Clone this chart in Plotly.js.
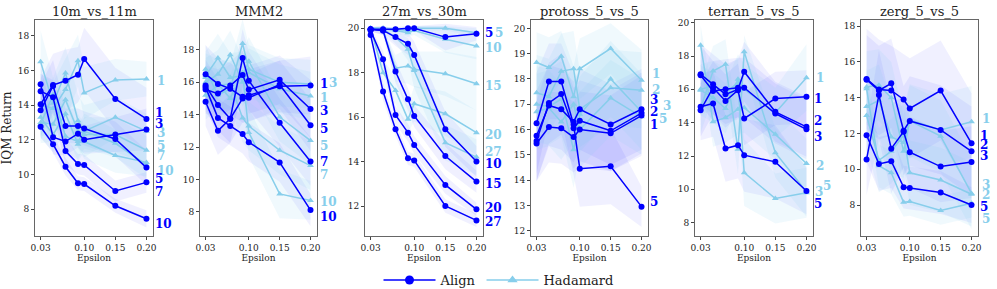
<!DOCTYPE html>
<html><head><meta charset="utf-8">
<script src="https://cdn.plot.ly/plotly-3.0.1.min.js"></script>
<style>html,body{margin:0;padding:0;background:#fff;overflow:hidden}#chart{width:997px;height:289px}</style>
</head><body><div id="chart"></div>
<script>
// ---------- data ----------
const eps = [0.03, 0.05, 0.07, 0.09, 0.10, 0.15, 0.20];
const titles = ["10m_vs_11m", "MMM2", "27m_vs_30m", "protoss_5_vs_5", "terran_5_vs_5", "zerg_5_vs_5"];
const xTicks = [0.03, 0.10, 0.15, 0.20];
const yTicks = [[8,10,12,14,16,18],[8,10,12,14,16,18],[12,14,16,18,20],[12,13,14,15,16,17,18,19,20],[8,10,12,14,16,18,20],[8,10,12,14,16,18]];

const keys_10m = ["1","3","5","7","10"];
const keys_mmm2 = ["1","3","5","7","10"];
const keys_27m = ["5","10","15","20","27"];
const keys_protoss = ["1","2","3","5"];
const keys_terran = ["1","2","3","5"];
const keys_zerg = ["1","2","3","5"];

const align_10m = [
  [14.05,15.15,15.4,15.75,16.65,14.35,13.2],
  [15.2,12.15,11.9,12.35,12.0,12.3,12.6],
  [13.7,15.1,12.8,12.8,12.65,12.05,10.4],
  [14.8,14.45,11.35,10.6,10.55,9.05,9.55],
  [12.75,11.75,10.45,9.5,9.45,8.2,7.45]];
const alignStd_10m = [
  [1.5,1.8,1.8,1.6,1.8,1.8,1.8],[1.2,1.0,0.8,0.8,0.8,1.0,1.2],[1.5,1.5,1.0,1.0,1.0,1.0,1.0],
  [1.0,1.0,0.8,0.6,0.6,0.6,0.6],[0.6,0.5,0.5,0.4,0.4,0.4,0.5]];
const had_10m = [
  [14.0,13.8,14.9,16.55,14.7,15.45,15.5],
  [16.5,14.1,15.85,13.1,12.5,13.3,12.5],
  [13.3,12.3,13.5,11.75,12.3,12.3,11.4],
  [13.0,12.9,14.3,12.5,11.9,11.1,10.7],
  [12.9,14.6,12.2,11.9,12.5,11.8,10.55]];
const hadStd_10m = [
  [1.8,1.5,1.8,1.5,1.5,1.2,1.0],[1.8,1.5,1.5,1.5,1.5,1.2,1.0],[1.2,1.0,1.0,1.0,1.0,1.0,0.8],
  [1.2,1.0,1.0,1.0,1.0,1.0,0.8],[1.0,1.0,1.0,1.0,1.0,0.8,0.8]];

const align_mmm2 = [
  [16.5,15.9,15.6,15.1,15.2,15.75,15.8],
  [15.55,15.3,15.8,16.45,15.55,16.15,14.35],
  [15.8,14.6,13.75,15.0,15.05,15.85,13.35],
  [14.8,13.0,13.75,17.5,16.1,13.5,11.1],
  [15.7,13.8,13.3,12.8,12.3,11.05,8.1]];
const alignStd_mmm2 = [
  [1.8,1.6,1.6,1.6,1.6,1.6,1.8],[1.5,1.5,1.5,1.5,1.5,1.5,1.8],[1.6,1.6,1.5,1.5,1.5,1.5,1.6],
  [1.5,1.5,1.5,1.8,1.8,1.5,1.5],[1.2,1.2,1.2,1.2,1.2,1.2,1.0]];
const had_mmm2 = [
  [16.0,16.5,17.7,16.0,16.6,15.6,15.15],
  [16.8,15.2,15.6,18.4,16.8,16.0,15.9],
  [16.4,17.5,16.3,16.4,17.3,13.85,12.4],
  [15.2,15.8,15.9,13.8,13.3,11.8,10.85],
  [16.3,15.9,15.0,16.6,12.9,9.1,8.7]];
const hadStd_mmm2 = [
  [1.5,1.5,1.5,1.5,1.5,1.5,1.5],[1.5,1.5,1.5,1.5,1.5,1.5,1.5],[1.5,1.5,1.5,1.5,1.5,1.5,1.5],
  [1.5,1.5,1.5,1.5,1.5,1.5,1.5],[1.5,1.5,1.5,1.5,1.5,1.5,1.2]];

const align_27m = [
  [19.95,19.95,19.95,20.0,20.0,19.6,19.75],
  [19.95,19.9,19.6,19.3,18.8,15.45,14.0],
  [19.95,19.9,18.05,16.8,16.05,14.25,13.1],
  [19.9,18.6,16.1,15.3,14.75,12.95,11.85],
  [19.7,17.15,15.45,14.15,14.05,12.0,11.35]];
const alignStd_27m = [
  [0.1,0.1,0.1,0.1,0.1,0.6,0.3],[0.1,0.2,0.4,0.5,0.6,0.8,0.7],[0.1,0.2,0.5,0.5,0.5,0.6,0.5],
  [0.1,0.4,0.4,0.4,0.4,0.4,0.3],[0.2,0.4,0.3,0.3,0.3,0.3,0.3]];
const had_27m = [
  [20.0,20.0,19.95,19.9,20.0,20.0,19.8],
  [20.0,20.0,19.9,19.8,19.9,19.5,19.2],
  [20.0,19.9,18.2,18.3,18.15,17.95,17.5],
  [20.0,18.0,17.2,15.9,16.6,16.15,15.3],
  [20.0,19.95,19.6,19.05,18.1,14.85,14.2]];
const hadStd_27m = [
  [0.05,0.05,0.1,0.1,0.1,0.1,0.2],[0.05,0.05,0.1,0.2,0.2,0.6,0.6],[0.05,0.1,0.6,0.8,0.8,1.0,1.2],
  [0.05,0.6,0.6,0.6,0.8,1.0,1.0],[0.05,0.1,0.3,0.5,0.8,0.8,0.8]];

const align_protoss = [
  [15.45,16.1,16.05,15.7,16.0,15.85,16.55],
  [15.55,17.05,17.4,16.05,16.35,15.95,16.65],
  [15.75,16.95,16.8,16.3,16.8,16.2,16.8],
  [16.25,17.9,17.9,16.2,14.45,14.55,12.95]];
const alignStd_protoss = [
  [1.5,1.4,1.4,1.4,1.5,1.5,1.6],[1.6,1.6,1.6,1.6,1.6,1.6,1.6],[1.8,1.6,1.6,1.6,1.6,1.6,1.6],
  [2.0,1.5,1.5,2.0,1.5,1.5,0.8]];
const had_protoss = [
  [18.65,18.45,18.9,17.3,18.4,19.2,17.95],
  [17.45,17.3,18.3,18.4,16.8,17.65,17.55],
  [17.0,16.9,17.2,15.2,16.6,18.0,16.7],
  [16.7,16.85,16.3,17.0,16.0,17.25,16.5]];
const hadStd_protoss = [
  [1.2,1.2,1.0,1.2,1.2,1.0,1.2],[1.5,1.5,1.5,1.5,1.5,1.5,1.5],[1.5,1.5,1.5,1.5,1.5,1.5,1.5],
  [1.5,1.5,1.5,1.5,1.5,1.5,1.5]];

const align_terran = [
  [14.75,16.1,15.3,15.95,14.25,15.45,15.55],
  [16.9,16.3,15.7,16.0,17.05,14.65,13.75],
  [16.85,15.9,16.0,16.1,16.1,14.55,13.6],
  [14.95,15.15,12.45,12.65,12.05,11.65,9.9]];
const alignStd_terran = [
  [1.6,1.6,1.6,1.6,1.6,1.6,1.6],[1.8,1.8,1.8,1.8,1.8,1.8,1.8],[1.8,1.8,1.8,1.8,1.8,1.8,1.8],
  [2.0,2.0,2.0,2.0,2.2,2.2,1.4]];
const had_terran = [
  [15.95,15.5,14.85,16.6,16.0,14.6,16.7],
  [18.65,14.05,14.3,14.8,14.9,13.3,11.55],
  [14.85,17.1,17.5,12.4,18.25,12.2,9.85],
  [16.0,16.2,15.8,16.4,11.0,9.45,9.8]];
const hadStd_terran = [
  [1.5,1.5,1.5,1.5,1.5,1.5,2.0],[1.2,1.5,1.5,1.5,1.5,1.5,1.5],[1.5,1.5,1.5,1.5,1.0,1.5,1.5],
  [1.5,1.5,1.5,1.5,2.0,1.5,1.5]];

const align_zerg = [
  [15.05,14.45,14.4,13.9,13.4,14.4,11.45],
  [15.0,14.4,14.8,12.15,12.7,12.2,11.0],
  [10.55,14.15,11.15,12.1,10.95,10.15,10.4],
  [11.9,10.3,10.45,9.0,8.95,8.7,8.0]];
const alignStd_zerg = [
  [2.8,2.8,2.5,2.5,2.8,2.8,2.8],[2.5,2.5,2.5,2.5,2.5,2.5,2.5],[2.0,2.5,2.5,2.0,2.0,2.0,2.0],
  [1.5,1.5,1.5,1.2,1.2,1.2,1.0]];
const had_zerg = [
  [13.5,13.85,11.8,11.5,12.75,12.2,12.65],
  [14.6,14.7,14.0,11.0,12.7,11.85,8.65],
  [13.0,10.5,11.0,11.9,9.8,9.4,8.6],
  [14.5,10.2,9.8,8.15,8.2,7.7,8.1]];
const hadStd_zerg = [
  [2.0,2.0,2.0,2.0,2.0,2.0,2.0],[2.0,2.0,2.0,2.0,2.0,2.0,2.0],[1.8,1.8,1.8,1.8,1.8,1.8,1.8],
  [1.2,1.2,1.2,0.8,0.8,0.8,0.8]];

// ---------- style / layout (positions in px) ----------
const panels = [
  {keys: keys_10m, al: align_10m, as: alignStd_10m, ha: had_10m, hs: hadStd_10m},
  {keys: keys_mmm2, al: align_mmm2, as: alignStd_mmm2, ha: had_mmm2, hs: hadStd_mmm2},
  {keys: keys_27m, al: align_27m, as: alignStd_27m, ha: had_27m, hs: hadStd_27m},
  {keys: keys_protoss, al: align_protoss, as: alignStd_protoss, ha: had_protoss, hs: hadStd_protoss},
  {keys: keys_terran, al: align_terran, as: alignStd_terran, ha: had_terran, hs: hadStd_terran},
  {keys: keys_zerg, al: align_zerg, as: alignStd_zerg, ha: had_zerg, hs: hadStd_zerg}];
const yRanges = [[6.46,18.9],[6.5,19.85],[10.65,20.37],[11.79,20.33],[7.2,20.16],[6.27,18.34]];
const xPix = [[35,153],[200,317],[365,483],[531,648],[695,813],[861,978]];
const yPix = [20,236];
const alignLab = [
  [[7,6],[7,5],[7,-11],[7,-10],[7,-5]],
  [[7,2],[7,-2],[7,-4],[7,0],[7,-7]],
  [[7,1],[7,-2],[7,-2],[7,1],[7,-2]],
  [[6,-9],[6,1],[6,9],[6,5]],
  [[6,-2],[6,6],[6,-8],[6,-13]],
  [[6,7],[6,6],[6,6],[6,-2]]];
const hadLab = [
  [[9,-2],[9,-2],[9,4],[9,6],[9,-6]],
  [[7,-2],[16,1],[7,-5],[7,-9],[7,-2]],
  [[17,0],[7,-2],[7,-2],[7,-2],[7,5]],
  [[8,6],[8,0],[19,6],[15,-2]],
  [[8,0],[8,-2],[7,0],[15,7]],
  [[8,3],[8,-2],[8,9],[8,-16]]];

const ALIGN = "#0000ff", HAD = "#87ceeb";
const ALIGN_FILL = "rgba(0,0,255,0.06)", HAD_FILL = "rgba(135,206,235,0.12)";
const FONT = "DejaVu Serif";
const W = 997, H = 289;

const traces = [];
const layout = {
  width: W, height: H, autosize: false, margin: {l:0,r:0,t:0,b:0, autoexpand: false},
  paper_bgcolor: "#fff", plot_bgcolor: "#fff",
  font: {family: FONT, size: 9, color: "#222"},
  showlegend: true,
  legend: {orientation: "h", x: 0.5, xanchor: "center", y: 1 - 280/H, yanchor: "middle", traceorder: "normal",
    font: {family: FONT, size: 13, color: "#222"}, itemwidth: 52, bgcolor: "rgba(0,0,0,0)"},
  annotations: []
};

panels.forEach((p, i) => {
  const n = i + 1;
  const xa = n === 1 ? "x" : "x" + n, ya = n === 1 ? "y" : "y" + n;
  const xk = n === 1 ? "xaxis" : "xaxis" + n, yk = n === 1 ? "yaxis" : "yaxis" + n;
  layout[xk] = {
    domain: [xPix[i][0]/W, xPix[i][1]/W], anchor: ya, range: [0.021, 0.2105], automargin: false,
    tickvals: xTicks, tickformat: ".2f", ticks: "outside", ticklen: 3, tickcolor: "#444",
    showline: true, mirror: true, linecolor: "#666", linewidth: 1, showgrid: false, zeroline: false,
    tickfont: {family: FONT, size: 9, color: "#222"},
    title: {text: "Epsilon", font: {family: FONT, size: 9, color: "#222"}, standoff: 2}
  };
  layout[yk] = {
    domain: [1 - yPix[1]/H, 1 - yPix[0]/H], anchor: xa, range: yRanges[i], automargin: false,
    tickvals: yTicks[i], ticks: "outside", ticklen: 3, tickcolor: "#444",
    showline: true, mirror: true, linecolor: "#666", linewidth: 1, showgrid: false, zeroline: false,
    tickfont: {family: FONT, size: 9, color: "#222"}
  };
  if (n === 1) layout[yk].title = {text: "IQM Return", font: {family: FONT, size: 12, color: "#222"}, standoff: 4};
  layout.annotations.push({text: titles[i], xref: "paper", yref: "paper",
    x: (xPix[i][0] + xPix[i][1]) / 2 / W, y: 1 - 11/H, xanchor: "center", yanchor: "middle",
    showarrow: false, font: {family: FONT, size: 13, color: "#222"}});

  const band = (vals, sds, col) => {
    const up = vals.map((v, k) => v + sds[k]);
    const lo = vals.map((v, k) => v - sds[k]);
    traces.push({x: eps.concat(eps.slice().reverse()), y: up.concat(lo.slice().reverse()),
      xaxis: xa, yaxis: ya, mode: "lines", fill: "toself", fillcolor: col,
      line: {width: 0, color: "rgba(0,0,0,0)"}, hoverinfo: "skip", showlegend: false});
  };
  p.al.forEach((v, k) => band(v, p.as[k], ALIGN_FILL));
  p.ha.forEach((v, k) => band(v, p.hs[k], HAD_FILL));

  p.ha.forEach((v, k) => {
    traces.push({x: eps, y: v, xaxis: xa, yaxis: ya, mode: "lines+markers", name: "Hadamard",
      showlegend: false,
      line: {color: HAD, width: 1.5}, marker: {symbol: "triangle-up", size: 6, color: HAD}});
    const last = v[v.length - 1];
    layout.annotations.push({text: "<b>" + p.keys[k] + "</b>", x: 0.20, y: last, xref: xa, yref: ya,
      xanchor: "left", yanchor: "middle", xshift: hadLab[i][k][0], yshift: hadLab[i][k][1],
      showarrow: false, font: {family: FONT, size: 12, color: HAD}});
  });
  p.al.forEach((v, k) => {
    traces.push({x: eps, y: v, xaxis: xa, yaxis: ya, mode: "lines+markers", name: "Align",
      showlegend: false,
      line: {color: ALIGN, width: 1.5}, marker: {symbol: "circle", size: 6, color: ALIGN}});
    const last = v[v.length - 1];
    layout.annotations.push({text: "<b>" + p.keys[k] + "</b>", x: 0.20, y: last, xref: xa, yref: ya,
      xanchor: "left", yanchor: "middle", xshift: alignLab[i][k][0], yshift: alignLab[i][k][1],
      showarrow: false, font: {family: FONT, size: 12, color: ALIGN}});
  });
});

traces.push({x: [null], y: [null], mode: "lines+markers", name: "Align", showlegend: true,
  line: {color: ALIGN, width: 1.5}, marker: {symbol: "circle", size: 9, color: ALIGN}});
traces.push({x: [null], y: [null], mode: "lines+markers", name: "Hadamard", showlegend: true,
  line: {color: HAD, width: 1.5}, marker: {symbol: "triangle-up", size: 9, color: HAD}});

Plotly.newPlot("chart", traces, layout, {staticPlot: true, displayModeBar: false});
</script></body></html>
